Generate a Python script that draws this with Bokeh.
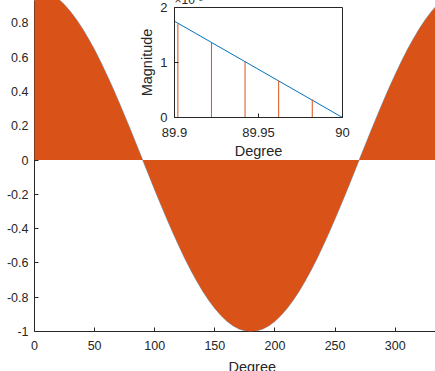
from bokeh.plotting import figure
from bokeh.layouts import column
from bokeh.models import FixedTicker, Title, Range1d
from bokeh.embed import file_html
from bokeh.resources import INLINE

ORANGE = "#D95319"
BLUE = "#0072BD"
AXC = "#262626"
FONT = "Liberation Sans"

# ---- main curve (envelope of the dense stems), read every 5 degrees ----
deg = [0, 5, 10, 15, 20, 25, 30, 35, 40, 45, 50, 55, 60, 65, 70, 75, 80, 85,
       90, 95, 100, 105, 110, 115, 120, 125, 130, 135, 140, 145, 150, 155, 160, 165, 170, 175,
       180, 185, 190, 195, 200, 205, 210, 215, 220, 225, 230, 235, 240, 245, 250, 255, 260, 265,
       270, 275, 280, 285, 290, 295, 300, 305, 310, 315, 320, 325, 330, 335, 340, 345, 350, 355, 360]
mag = [1.000, 0.996, 0.985, 0.966, 0.940, 0.906, 0.866, 0.819, 0.766, 0.707, 0.643, 0.574,
       0.500, 0.423, 0.342, 0.259, 0.174, 0.087,
       0.000, -0.087, -0.174, -0.259, -0.342, -0.423, -0.500, -0.574, -0.643, -0.707, -0.766,
       -0.819, -0.866, -0.906, -0.940, -0.966, -0.985, -0.996,
       -1.000, -0.996, -0.985, -0.966, -0.940, -0.906, -0.866, -0.819, -0.766, -0.707, -0.643,
       -0.574, -0.500, -0.423, -0.342, -0.259, -0.174, -0.087,
       0.000, 0.087, 0.174, 0.259, 0.342, 0.423, 0.500, 0.574, 0.643, 0.707, 0.766, 0.819,
       0.866, 0.906, 0.940, 0.966, 0.985, 0.996, 1.000]

x_ticks = [0, 50, 100, 150, 200, 250, 300]
x_tick_labels = ["0", "50", "100", "150", "200", "250", "300"]
y_ticks = [-1, -0.8, -0.6, -0.4, -0.2, 0, 0.2, 0.4, 0.6, 0.8]
y_tick_labels = ["-1", "-0.8", "-0.6", "-0.4", "-0.2", "0", "0.2", "0.4", "0.6", "0.8"]

# ---- inset (zoom near 90 degrees), magnitudes in units of 1e-3 ----
zoom_deg = [89.902, 89.922, 89.942, 89.962, 89.982]
zoom_mag = [1.71, 1.37, 1.02, 0.67, 0.33]
zoom_line_deg = [89.9, 90.0]
zoom_line_mag = [1.75, 0.0]
inset_x_ticks = [89.9, 89.95, 90]
inset_x_tick_labels = ["89.9", "89.95", "90"]
inset_y_ticks = [0, 1, 2]
inset_y_tick_labels = ["0", "1", "2"]


def style_axis(ax, ticks, labels, standoff, size):
    ax.ticker = FixedTicker(ticks=ticks)
    ax.major_label_overrides = dict(zip(ticks, labels))
    ax.minor_tick_line_color = None
    ax.major_tick_in = 4
    ax.major_tick_out = 0
    ax.axis_line_color = AXC
    ax.major_tick_line_color = AXC
    ax.major_label_text_color = AXC
    ax.major_label_text_font = FONT
    ax.major_label_text_font_size = size
    ax.major_label_standoff = standoff
    ax.axis_label_text_font = FONT
    ax.axis_label_text_font_size = "14.5px"
    ax.axis_label_text_font_style = "normal"
    ax.axis_label_text_color = AXC


# ---------------- main figure ----------------
# canvas = 46 (left border) + 401 (frame) + 14 (right border); frame height 331
W, H = 461, 387
p = figure(width=W, height=H,
           x_range=Range1d(0, 333.5), y_range=Range1d(-1, 0.931),
           output_backend="svg", toolbar_location=None)
p.min_border_left = 46
p.min_border_right = 14
p.min_border_top = 0
p.min_border_bottom = 56
p.outline_line_color = None
p.grid.visible = False
p.background_fill_color = "white"
p.border_fill_color = None

style_axis(p.xaxis[0], x_ticks, x_tick_labels, 9, "12.5px")
style_axis(p.yaxis[0], y_ticks, y_tick_labels, 6, "12.5px")

p.line(deg, mag, line_color=BLUE, line_width=0.5)
p.varea(x=deg, y1=0, y2=mag, fill_color=ORANGE, level="annotation")

p.add_layout(Title(text="Degree", align="left", offset=194, standoff=9,
                   text_font=FONT, text_font_size="14.5px", text_font_style="normal",
                   text_color=AXC), "below")

# ---------------- inset figure ----------------
q = figure(frame_width=168, frame_height=110,
           x_range=Range1d(89.9, 90), y_range=Range1d(0, 2),
           output_backend="svg", toolbar_location=None)
q.min_border_left = 46
q.min_border_right = 14
q.min_border_top = 16
q.min_border_bottom = 46
q.outline_line_color = AXC
q.grid.visible = False
q.background_fill_color = "white"
q.border_fill_color = None

style_axis(q.xaxis[0], inset_x_ticks, inset_x_tick_labels, 10, "13px")
style_axis(q.yaxis[0], inset_y_ticks, inset_y_tick_labels, 7, "13px")
q.xaxis[0].axis_label = "Degree"
q.xaxis[0].axis_label_standoff = 3
q.yaxis[0].axis_label = "Magnitude"
q.yaxis[0].axis_label_standoff = 2

q.line(zoom_line_deg, zoom_line_mag, line_color=BLUE, line_width=1)
q.segment(x0=zoom_deg, y0=0, x1=zoom_deg, y1=zoom_mag, line_color=ORANGE, line_width=1)

q.add_layout(Title(text="×10⁻³", align="left", offset=0, standoff=2,
                   text_font=FONT, text_font_size="12px", text_font_style="normal",
                   text_color=AXC), "above")

p.styles = {"position": "absolute", "left": "-12px", "top": "0px",
            "width": f"{W}px", "height": f"{H}px",
            "min-width": f"{W}px", "min-height": f"{H}px",
            "max-width": "none", "max-height": "none", "flex-shrink": "0"}
q.styles = {"position": "absolute", "left": "128px", "top": "-11px"}

layout = column(p, q, width=435, height=371)
layout.styles = {"position": "relative", "overflow": "hidden"}

open("out.html", "w").write(file_html(layout, INLINE))
